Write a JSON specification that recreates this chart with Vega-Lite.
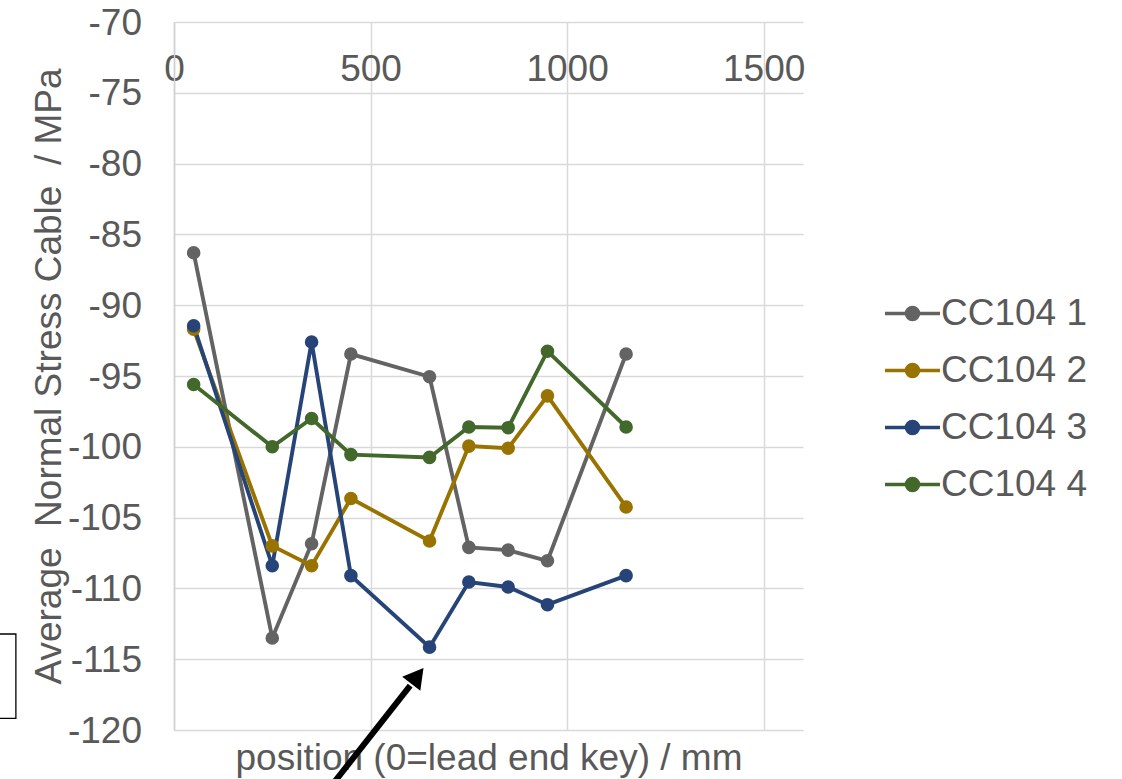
{
  "$schema": "https://vega.github.io/schema/vega-lite/v6.json",
  "width": 629,
  "height": 708,
  "autosize": "none",
  "padding": {"left": 174, "top": 22, "right": 319, "bottom": 49},
  "background": "white",
  "config": {
    "view": {"stroke": null},
    "font": "Liberation Sans"
  },
  "data": {
    "values": [
      {"pos": 50, "value": -86.3, "series": "CC104 1"},
      {"pos": 250, "value": -113.5, "series": "CC104 1"},
      {"pos": 350, "value": -106.85, "series": "CC104 1"},
      {"pos": 450, "value": -93.45, "series": "CC104 1"},
      {"pos": 650, "value": -95.05, "series": "CC104 1"},
      {"pos": 750, "value": -107.1, "series": "CC104 1"},
      {"pos": 850, "value": -107.3, "series": "CC104 1"},
      {"pos": 950, "value": -108.05, "series": "CC104 1"},
      {"pos": 1150, "value": -93.45, "series": "CC104 1"},
      {"pos": 50, "value": -91.7, "series": "CC104 2"},
      {"pos": 250, "value": -107.0, "series": "CC104 2"},
      {"pos": 350, "value": -108.4, "series": "CC104 2"},
      {"pos": 450, "value": -103.65, "series": "CC104 2"},
      {"pos": 650, "value": -106.65, "series": "CC104 2"},
      {"pos": 750, "value": -99.95, "series": "CC104 2"},
      {"pos": 850, "value": -100.1, "series": "CC104 2"},
      {"pos": 950, "value": -96.4, "series": "CC104 2"},
      {"pos": 1150, "value": -104.25, "series": "CC104 2"},
      {"pos": 50, "value": -91.45, "series": "CC104 3"},
      {"pos": 250, "value": -108.4, "series": "CC104 3"},
      {"pos": 350, "value": -92.6, "series": "CC104 3"},
      {"pos": 450, "value": -109.1, "series": "CC104 3"},
      {"pos": 650, "value": -114.15, "series": "CC104 3"},
      {"pos": 750, "value": -109.55, "series": "CC104 3"},
      {"pos": 850, "value": -109.9, "series": "CC104 3"},
      {"pos": 950, "value": -111.15, "series": "CC104 3"},
      {"pos": 1150, "value": -109.1, "series": "CC104 3"},
      {"pos": 50, "value": -95.6, "series": "CC104 4"},
      {"pos": 250, "value": -100.0, "series": "CC104 4"},
      {"pos": 350, "value": -98.0, "series": "CC104 4"},
      {"pos": 450, "value": -100.55, "series": "CC104 4"},
      {"pos": 650, "value": -100.75, "series": "CC104 4"},
      {"pos": 750, "value": -98.6, "series": "CC104 4"},
      {"pos": 850, "value": -98.65, "series": "CC104 4"},
      {"pos": 950, "value": -93.25, "series": "CC104 4"},
      {"pos": 1150, "value": -98.6, "series": "CC104 4"}
    ]
  },
  "encoding": {
    "x": {
      "field": "pos",
      "type": "quantitative",
      "scale": {"domain": [0, 1600], "nice": false, "zero": false},
      "axis": {
        "orient": "bottom",
        "values": [0, 500, 1000, 1500],
        "labelExpr": "'' + datum.value",
        "grid": true,
        "gridColor": "#d9d9d9",
        "gridWidth": 1.5,
        "domain": false,
        "ticks": false,
        "tickSize": 0,
        "labelFontSize": 37,
        "labelColor": "#595959",
        "labelBaseline": "alphabetic",
        "labelAlign": "center",
        "labelPadding": -650,
        "labelFlush": false,
        "labelOverlap": false,
        "title": "position (0=lead end key) / mm",
        "titleFontSize": 37,
        "titleFontWeight": "normal",
        "titleColor": "#595959",
        "titleBaseline": "alphabetic",
        "titleY": 39
      }
    },
    "y": {
      "field": "value",
      "type": "quantitative",
      "scale": {"domain": [-120, -70], "nice": false, "zero": false},
      "axis": {
        "values": [-120, -115, -110, -105, -100, -95, -90, -85, -80, -75, -70],
        "labelExpr": "'' + datum.value",
        "grid": true,
        "gridColor": "#d9d9d9",
        "gridWidth": 1.5,
        "domain": true,
        "domainColor": "#d0d0d0",
        "domainWidth": 1.5,
        "ticks": false,
        "tickSize": 0,
        "labelFontSize": 37,
        "labelColor": "#595959",
        "labelPadding": 32.5,
        "labelBaseline": "middle",
        "labelOffset": 1,
        "labelOverlap": false,
        "title": "Average\u00a0 Normal Stress Cable\u00a0 / MPa",
        "titleFontSize": 37,
        "titleFontWeight": "normal",
        "titleColor": "#595959",
        "titleBaseline": "alphabetic",
        "titleAngle": -90,
        "titleX": -114,
        "titleY": 354
      }
    }
  },
  "layer": [
    {
      "mark": {"type": "line", "strokeWidth": 3.9},
      "encoding": {
        "color": {
          "field": "series",
          "type": "nominal",
          "scale": {
            "domain": ["CC104 1", "CC104 2", "CC104 3", "CC104 4"],
            "range": ["#636363", "#997300", "#264478", "#43682B"]
          },
          "legend": {
            "orient": "none",
            "legendX": 709,
            "legendY": 262,
            "title": null,
            "padding": 0,
            "symbolType": "M-1,0H1M0.22,0A0.22,0.22,0,1,1,-0.22,0A0.22,0.22,0,1,1,0.22,0Z",
            "symbolSize": 3025,
            "symbolStrokeWidth": 3.5,
            "labelFontSize": 37,
            "labelColor": "#595959",
            "labelOffset": -1,
            "labelLimit": 400,
            "rowPadding": 9,
            "encode": {
              "symbols": {
                "update": {
                  "fill": {"scale": "color", "field": "value"},
                  "stroke": {"scale": "color", "field": "value"},
                  "opacity": {"value": 1}
                }
              }
            }
          }
        }
      }
    },
    {
      "mark": {"type": "point", "filled": true, "shape": "circle", "size": 185, "opacity": 1},
      "encoding": {
        "color": {"field": "series", "type": "nominal"}
      }
    },
    {
      "data": {"values": [{"pos": 393, "value": -124.2, "pos2": 600.8, "value2": -116.87}]},
      "mark": {"type": "rule", "color": "black", "strokeWidth": 6, "strokeCap": "butt"},
      "encoding": {
        "x2": {"field": "pos2"},
        "y2": {"field": "value2"}
      }
    },
    {
      "data": {"values": [{"pos": 619.1, "value": -116.18}]},
      "mark": {"type": "point", "shape": "triangle-up", "filled": true, "color": "black", "size": 529, "angle": 38, "opacity": 1}
    },
    {
      "data": {"values": [{"pos": -470, "value": -119.18, "pos2": -402.2, "value2": -113.22}]},
      "mark": {"type": "rect", "fillOpacity": 0, "stroke": "black", "strokeWidth": 1.3},
      "encoding": {
        "x2": {"field": "pos2"},
        "y2": {"field": "value2"}
      }
    }
  ]
}
